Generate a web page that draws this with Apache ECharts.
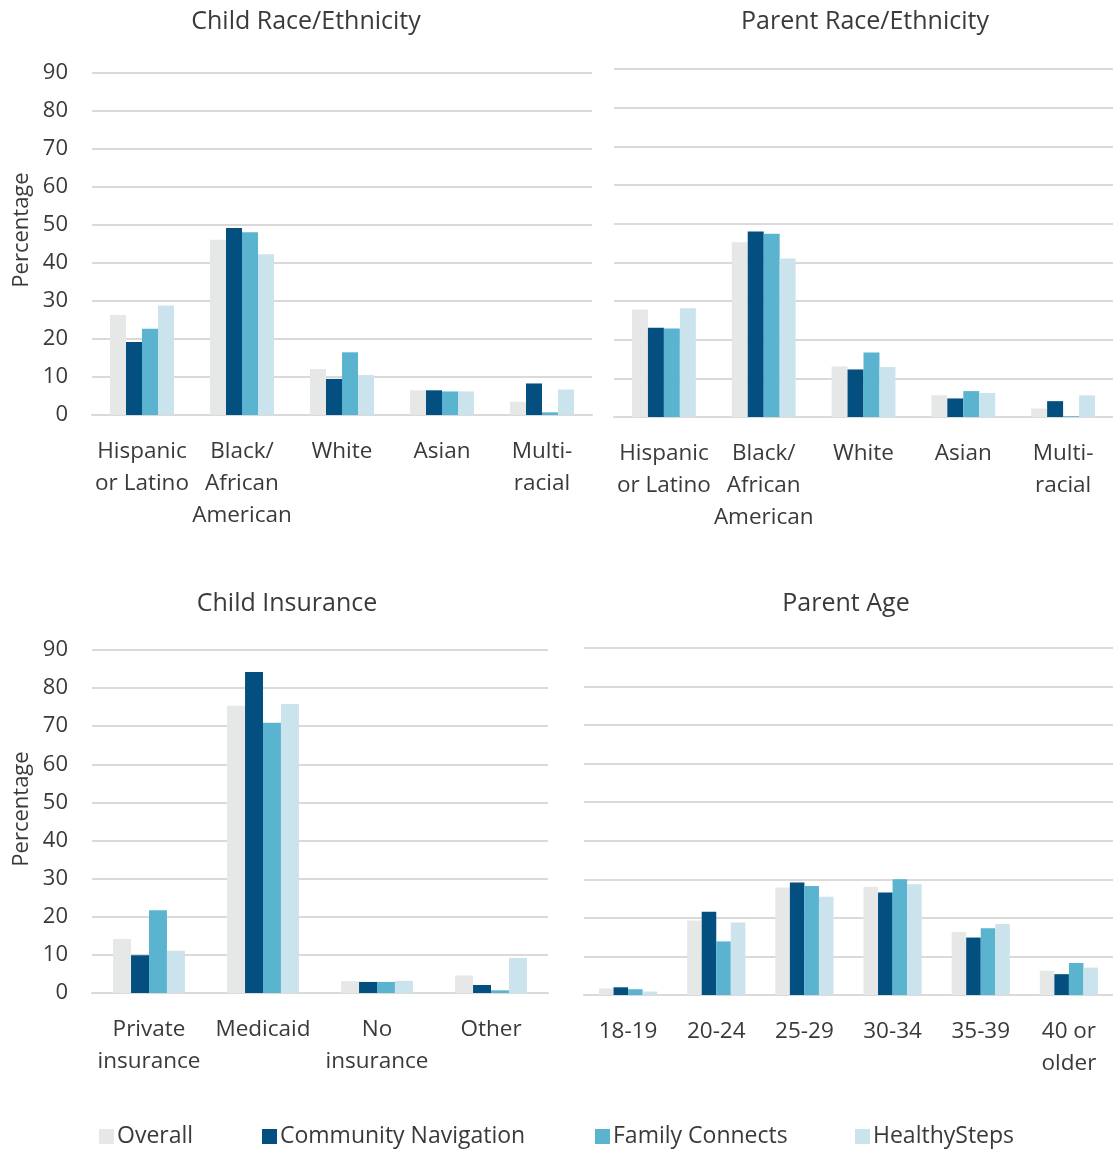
<!DOCTYPE html>
<html>
<head>
<meta charset="utf-8">
<script src="https://cdn.jsdelivr.net/npm/echarts@6/dist/echarts.min.js"></script>
<style>
  html, body { margin: 0; padding: 0; background: #fff; }
  #chart { width: 1113px; height: 1152px; }
</style>
</head>
<body>
<div id="chart"></div>
<script>
// category labels
const childRaceCats = ['Hispanic\nor Latino', 'Black/\nAfrican\nAmerican', 'White', 'Asian', 'Multi-\nracial'];
const parentRaceCats = ['Hispanic\nor Latino', 'Black/\nAfrican\nAmerican', 'White', 'Asian', 'Multi-\nracial'];
const insuranceCats = ['Private\ninsurance', 'Medicaid', 'No\ninsurance', 'Other'];
const ageCats = ['18-19', '20-24', '25-29', '30-34', '35-39', '40 or\nolder'];

const seriesNames = ['Overall', 'Community Navigation', 'Family Connects', 'HealthySteps'];
const seriesColors = ['#e6e7e7', '#024f80', '#5bb4cf', '#cae3ec'];

// Child race/ethnicity (%)
const childRaceOverall = [26.3, 46.1, 12.1, 6.5, 3.5];
const childRaceCommNav = [19.2, 49.2, 9.5, 6.5, 8.3];
const childRaceFamConn = [22.7, 48.1, 16.5, 6.2, 0.7];
const childRaceHealthy = [28.8, 42.3, 10.5, 6.2, 6.7];

// Parent race/ethnicity (%)
const parentRaceOverall = [27.8, 45.2, 13.1, 5.6, 2.2];
const parentRaceCommNav = [23.1, 48.0, 12.3, 4.8, 4.1];
const parentRaceFamConn = [22.9, 47.4, 16.7, 6.7, 0.2];
const parentRaceHealthy = [28.1, 41.0, 12.9, 6.2, 5.6];

// Child insurance (%)
const insuranceOverall = [14.2, 75.4, 3.1, 4.6];
const insuranceCommNav = [9.9, 84.2, 2.9, 2.1];
const insuranceFamConn = [21.7, 70.9, 2.9, 0.7];
const insuranceHealthy = [11.1, 75.8, 3.2, 9.2];

// Parent age (%)
const ageOverall = [1.7, 19.3, 27.9, 28.1, 16.3, 6.3];
const ageCommNav = [2.0, 21.6, 29.2, 26.6, 14.9, 5.4];
const ageFamConn = [1.5, 13.9, 28.3, 30.0, 17.3, 8.3];
const ageHealthy = [0.9, 18.8, 25.5, 28.7, 18.4, 7.1];

const yTicks = { min: 0, max: 90, interval: 10 };

const FONT = '"Open Sans", "Noto Sans", sans-serif';
const TEXT_COLOR = '#3a3a3a';
const GRID_COLOR = '#dadada';

const panels = [
  { title: 'Child Race/Ethnicity', cx: 306, titleTop: 9, cats: childRaceCats, gap: '36%', showY: true, nameShift: 28,
    grid: { left: 92, top: 73, width: 500, height: 342 },
    data: [childRaceOverall, childRaceCommNav, childRaceFamConn, childRaceHealthy] },
  { title: 'Parent Race/Ethnicity', cx: 865, titleTop: 9, cats: parentRaceCats, gap: '36%', showY: false, nameShift: 0,
    grid: { left: 614, top: 69, width: 499, height: 348 },
    data: [parentRaceOverall, parentRaceCommNav, parentRaceFamConn, parentRaceHealthy] },
  { title: 'Child Insurance', cx: 287, titleTop: 591, cats: insuranceCats, gap: '37%', showY: true, nameShift: 25,
    grid: { left: 92, top: 650, width: 456, height: 343 },
    data: [insuranceOverall, insuranceCommNav, insuranceFamConn, insuranceHealthy] },
  { title: 'Parent Age', cx: 846, titleTop: 591, cats: ageCats, gap: '34%', showY: false, nameShift: 0,
    grid: { left: 584, top: 648, width: 529, height: 347 },
    data: [ageOverall, ageCommNav, ageFamConn, ageHealthy] },
];

const legendLefts = [99, 262, 595, 855];

const chart = echarts.init(document.getElementById('chart'));

const option = {
  animation: false,
  textStyle: { fontFamily: FONT },
  title: panels.map(p => ({
    text: p.title,
    left: p.cx,
    top: p.titleTop,
    padding: 0,
    textAlign: 'center',
    textStyle: { fontFamily: FONT, fontSize: 25, fontWeight: 'normal', color: TEXT_COLOR },
  })),
  legend: seriesNames.map((name, i) => ({
    data: [name],
    left: legendLefts[i],
    top: 1125,
    padding: 0,
    itemWidth: 15,
    itemHeight: 15,
    icon: 'rect',
    selectedMode: false,
    textStyle: { fontFamily: FONT, fontSize: 23, color: TEXT_COLOR, padding: [0, 0, 0, -2] },
  })),
  grid: panels.map(p => ({ ...p.grid, containLabel: false })),
  xAxis: panels.map((p, i) => ({
    type: 'category',
    gridIndex: i,
    data: p.cats,
    axisTick: { show: false },
    axisLine: { show: true, lineStyle: { color: GRID_COLOR, width: 2 } },
    axisLabel: {
      interval: 0,
      margin: 21,
      fontFamily: FONT,
      fontSize: 22.5,
      lineHeight: 32,
      color: TEXT_COLOR,
    },
  })),
  yAxis: panels.map((p, i) => ({
    type: 'value',
    gridIndex: i,
    ...yTicks,
    name: p.showY ? 'Percentage' : '',
    nameLocation: 'middle',
    nameGap: 59,
    nameTextStyle: { fontFamily: FONT, fontSize: 22, color: TEXT_COLOR, padding: [0, 0, 0, p.nameShift] },
    axisLine: { show: false },
    axisTick: { show: false },
    axisLabel: {
      show: p.showY,
      margin: 24,
      fontFamily: FONT,
      fontSize: 22,
      color: TEXT_COLOR,
    },
    splitLine: { show: true, lineStyle: { color: GRID_COLOR, width: 2 } },
  })),
  series: [],
};

panels.forEach((p, i) => {
  seriesNames.forEach((name, k) => {
    option.series.push({
      name,
      type: 'bar',
      xAxisIndex: i,
      yAxisIndex: i,
      data: p.data[k],
      barGap: '0%',
      barCategoryGap: p.gap,
      itemStyle: { color: seriesColors[k] },
    });
  });
});

chart.setOption(option);
</script>
</body>
</html>
